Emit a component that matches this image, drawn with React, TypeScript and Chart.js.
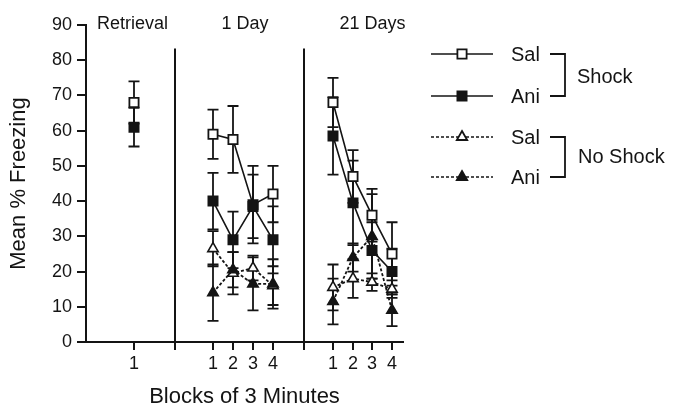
import React, { useEffect, useRef } from 'react';
import { Chart, registerables } from 'chart.js';

Chart.register(...registerables);

// ---------- data ----------
const groupTitles = ['Retrieval', '1 Day', '21 Days'];
// point order: retrieval, 1 Day blocks 1-4, 21 Days blocks 1-4
const blockLabels = ['1', '1', '2', '3', '4', '1', '2', '3', '4'];
const yTicks = [0, 10, 20, 30, 40, 50, 60, 70, 80, 90];

const shockSal = [68, 59, 57.5, 39, 42, 68, 47, 36, 25];
const shockSalErr = [6, 7, 9.5, 11, 8, 7, 7.5, 7.5, 9];
const shockAni = [61, 40, 29, 38.5, 29, 58.5, 39.5, 26, 20];
const shockAniErr = [5.5, 8, 8, 9, 9.5, 11, 12, 8, 6.5];
const noShockSal = [null, 26.5, 19.5, 21, 16, 15.5, 18, 17, 15];
const noShockSalErr = [null, 5, 6, 3.5, 5.5, 6.5, 5.5, 2.5, 2.5];
const noShockAni = [null, 14, 20.5, 16.5, 16.5, 11.5, 24, 30, 9];
const noShockAniErr = [null, 8, 5, 7.5, 7, 6.5, 4, 12, 4.5];

// ---------- layout (scale positions of the categories) ----------
const X_POS = [2.4, 6.35, 7.35, 8.35, 9.35, 12.35, 13.35, 14.3, 15.3];
const SEP_POS = [4.45, 10.9];
const X_MAX = 15.85;
const FONT = '"Liberation Sans", Arial, Helvetica, sans-serif';
const INK = '#141414';

function buildPoints(vals: (number | null)[], errs: (number | null)[]) {
  const pts: { x: number; y: number | null; e: number | null }[] = [];
  vals.forEach((v, i) => {
    if (i === 1) pts.push({ x: SEP_POS[0], y: null, e: null });
    if (i === 5) pts.push({ x: SEP_POS[1], y: null, e: null });
    pts.push({ x: X_POS[i], y: v, e: errs[i] });
  });
  return pts;
}

const errorBarPlugin = {
  id: 'errorBars',
  beforeDatasetsDraw(chart: any) {
    const { ctx, scales } = chart;
    const xs = scales.x, ys = scales.y;
    ctx.save();
    ctx.strokeStyle = INK;
    ctx.lineWidth = 1.8;
    chart.data.datasets.forEach((ds: any) => {
      ds.data.forEach((p: any) => {
        if (p.y == null || p.e == null) return;
        const x = xs.getPixelForValue(p.x);
        const y1 = ys.getPixelForValue(p.y - p.e);
        const y2 = ys.getPixelForValue(p.y + p.e);
        ctx.beginPath();
        ctx.moveTo(x, y1); ctx.lineTo(x, y2);
        ctx.moveTo(x - 5.5, y1); ctx.lineTo(x + 5.5, y1);
        ctx.moveTo(x - 5.5, y2); ctx.lineTo(x + 5.5, y2);
        ctx.stroke();
      });
    });
    ctx.restore();
  },
};

function drawMarker(ctx: CanvasRenderingContext2D, kind: string, filled: boolean, x: number, y: number) {
  ctx.beginPath();
  if (kind === 'rect') {
    ctx.rect(x - 4.6, y - 4.6, 9.2, 9.2);
  } else {
    const r = 6;
    ctx.moveTo(x, y - r);
    ctx.lineTo(x + r * 0.866, y + r / 2);
    ctx.lineTo(x - r * 0.866, y + r / 2);
    ctx.closePath();
  }
  ctx.fillStyle = filled ? INK : '#fff';
  ctx.fill();
  ctx.lineWidth = 1.8;
  ctx.strokeStyle = INK;
  ctx.stroke();
}

const decorPlugin = {
  id: 'decor',
  beforeDatasetsDraw(chart: any) {
    const { ctx, scales, chartArea } = chart;
    const xs = scales.x, ys = scales.y;
    ctx.save();
    ctx.strokeStyle = INK;
    ctx.lineWidth = 2;
    SEP_POS.forEach((s) => {
      const x = Math.round(xs.getPixelForValue(s));
      ctx.beginPath();
      ctx.moveTo(x, ys.getPixelForValue(83.3));
      ctx.lineTo(x, chartArea.bottom);
      ctx.stroke();
    });
    ctx.restore();
  },
  afterDraw(chart: any) {
    const { ctx, scales } = chart;
    const xs = scales.x;
    ctx.save();
    ctx.fillStyle = INK;
    ctx.font = `18px ${FONT}`;
    ctx.textAlign = 'center';
    ctx.textBaseline = 'alphabetic';
    const centers = [
      xs.getPixelForValue(X_POS[0]) - 1.5,
      (xs.getPixelForValue(X_POS[1]) + xs.getPixelForValue(X_POS[4])) / 2 + 2,
      (xs.getPixelForValue(X_POS[5]) + xs.getPixelForValue(X_POS[8])) / 2 + 10,
    ];
    groupTitles.forEach((t, i) => ctx.fillText(t, centers[i], 29));

    // legend
    const rows = [
      { y: 54, name: 'Sal', kind: 'rect', filled: false, dash: [] as number[] },
      { y: 96, name: 'Ani', kind: 'rect', filled: true, dash: [] as number[] },
      { y: 137, name: 'Sal', kind: 'tri', filled: false, dash: [3, 2] },
      { y: 177, name: 'Ani', kind: 'tri', filled: true, dash: [3, 2] },
    ];
    rows.forEach((r) => {
      ctx.save();
      ctx.strokeStyle = INK;
      ctx.lineWidth = 1.7;
      ctx.setLineDash(r.dash);
      ctx.beginPath();
      ctx.moveTo(431, r.y); ctx.lineTo(493, r.y);
      ctx.stroke();
      ctx.setLineDash([]);
      drawMarker(ctx, r.kind, r.filled, 462, r.y);
      ctx.restore();
      ctx.fillStyle = INK;
      ctx.font = `20px ${FONT}`;
      ctx.textAlign = 'left';
      ctx.textBaseline = 'middle';
      ctx.fillText(r.name, 511, r.y + 1);
    });
    // brackets
    ctx.strokeStyle = INK;
    ctx.lineWidth = 1.8;
    [[54, 96], [137, 177]].forEach(([a, b]) => {
      ctx.beginPath();
      ctx.moveTo(550, a); ctx.lineTo(565, a); ctx.lineTo(565, b); ctx.lineTo(550, b);
      ctx.stroke();
    });
    ctx.font = `20px ${FONT}`;
    ctx.textAlign = 'left';
    ctx.textBaseline = 'middle';
    ctx.fillText('Shock', 577, 77);
    ctx.fillText('No Shock', 578, 157);
    ctx.restore();
  },
};

export default function App() {
  const ref = useRef<HTMLCanvasElement | null>(null);
  useEffect(() => {
    if (!ref.current) return;
    const solid = (label: string, vals: any, errs: any, filled: boolean) => ({
      label,
      data: buildPoints(vals, errs),
      borderColor: INK,
      borderWidth: 1.6,
      pointStyle: 'rect',
      pointRadius: 6.5,
      pointBorderWidth: 1.8,
      pointBackgroundColor: filled ? INK : '#fff',
      pointBorderColor: INK,
      spanGaps: false,
      tension: 0,
    });
    const dotted = (label: string, vals: any, errs: any, filled: boolean) => ({
      label,
      data: buildPoints(vals, errs),
      borderColor: INK,
      borderWidth: 1.8,
      borderDash: [3, 2],
      pointStyle: 'triangle',
      pointRadius: 6,
      pointBorderWidth: 1.6,
      pointBackgroundColor: filled ? INK : '#fff',
      pointBorderColor: INK,
      spanGaps: false,
      tension: 0,
    });
    const chart = new Chart(ref.current, {
      type: 'line',
      data: {
        datasets: [
          dotted('No Shock Ani', noShockAni, noShockAniErr, true),
          dotted('No Shock Sal', noShockSal, noShockSalErr, false),
          solid('Shock Ani', shockAni, shockAniErr, true),
          solid('Shock Sal', shockSal, shockSalErr, false),
        ] as any,
      },
      options: {
        animation: false,
        responsive: false,
        devicePixelRatio: 1,
        parsing: { xAxisKey: 'x', yAxisKey: 'y' } as any,
        layout: { padding: { left: 0, top: 25, right: 274, bottom: 0 } },
        plugins: { legend: { display: false }, tooltip: { enabled: false } },
        scales: {
          x: {
            type: 'linear',
            min: 0,
            max: X_MAX,
            afterFit: (s: any) => { s.height = 68; },
            afterBuildTicks: (s: any) => {
              const all = [...X_POS, ...SEP_POS].sort((a, b) => a - b);
              s.ticks = all.map((v) => ({ value: v }));
            },
            ticks: {
              autoSkip: false,
              maxRotation: 0,
              padding: 3,
              color: INK,
              font: { family: FONT, size: 18 },
              callback: (v: any) => {
                const i = X_POS.findIndex((p) => Math.abs(p - Number(v)) < 1e-6);
                return i >= 0 ? blockLabels[i] : '';
              },
            },
            grid: { drawOnChartArea: false, drawTicks: true, tickLength: 8, color: INK, lineWidth: 2 },
            border: { display: true, color: INK, width: 2 },
            title: {
              display: true,
              text: 'Blocks of 3 Minutes',
              color: INK,
              font: { family: FONT, size: 22 },
              padding: { top: 0, bottom: 0 },
            },
          },
          y: {
            type: 'linear',
            min: 0,
            max: 90,
            afterFit: (s: any) => { s.width = 86; },
            afterBuildTicks: (s: any) => { s.ticks = yTicks.map((v) => ({ value: v })); },
            ticks: {
              padding: 5,
              color: INK,
              font: { family: FONT, size: 18 },
            },
            grid: { drawOnChartArea: false, drawTicks: true, tickLength: 9, color: INK, lineWidth: 2 },
            border: { display: true, color: INK, width: 2 },
            title: {
              display: true,
              text: 'Mean % Freezing',
              color: INK,
              font: { family: FONT, size: 22 },
              padding: { top: 6, bottom: 0 },
            },
          },
        },
      },
      plugins: [errorBarPlugin, decorPlugin],
    });
    return () => chart.destroy();
  }, []);
  return (
    <div style={{ position: 'absolute', left: 0, top: 0, width: 677, height: 410, background: '#fff' }}>
      <canvas ref={ref} width={677} height={410} style={{ display: 'block' }} />
    </div>
  );
}
